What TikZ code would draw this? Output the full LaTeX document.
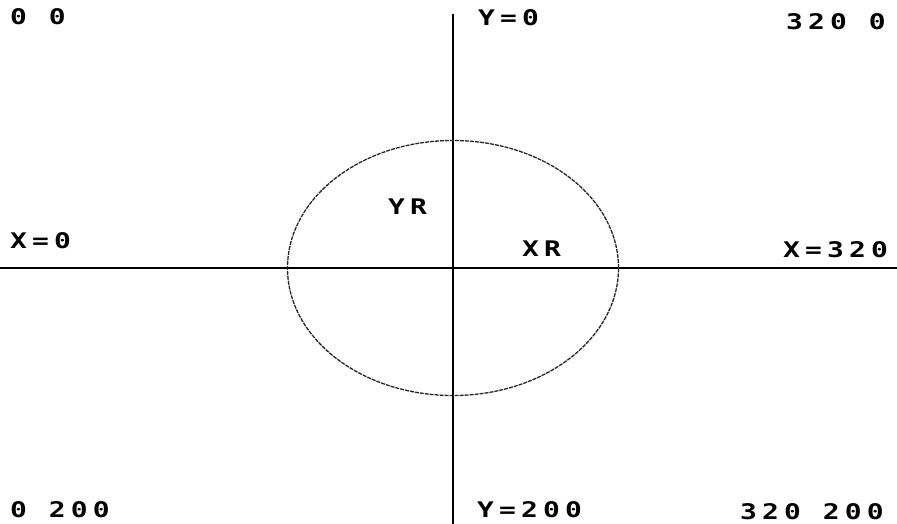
\documentclass[tikz,border=0pt]{standalone}
\usepackage{fontspec}
\newfontfamily\pixfont[FakeStretch=1.3,LetterSpace=24]{DejaVu Sans Mono}
\usepackage{tikz}
\usetikzlibrary{positioning,calc}

\begin{document}
\begin{tikzpicture}[x = 1pt, y = -1pt]
\tikzset{
  lbl/.style = {anchor = base west, inner sep = 0pt, font = {\pixfont\bfseries\fontsize{21.5}{24}\selectfont}},
  axis/.style = {line width = 1.7pt, black},
  rim/.style = {line width = 1.3pt, black!85, dash pattern = on 4pt off 1pt}
}
\useasboundingbox (0,0) rectangle (897,524);
% axes
\coordinate (ytop) at (453,14);
\coordinate (ybot) at (453,524);
\coordinate (xleft) at (0,268);
\coordinate (xright) at (897,268);
\coordinate (origin) at (453,268);
\draw[axis] (ytop) -- (ybot);
\draw[axis] (xleft) -- (xright);
\draw[rim] (origin) ellipse [x radius = 165.5pt, y radius = 127.5pt];
% corner labels
\node[lbl] (tl) at (10,25) {0 0};
\node[lbl] (tm) at (478,26) {Y=0};
\node[lbl] (tr) at (786,30) {320 0};
\node[lbl] (bl) at (10,517) {0 200};
\node[lbl] (bm) at (477,517) {Y=200};
\node[lbl] (br) at (740,519) {320 200};
% axis labels
\node[lbl] (xl) at (10,248) {X=0};
\node[lbl] (xr) at (783,257) {X=320};
% radii
\node[lbl] (yrad) at (388,214) {YR};
\node[lbl] (xrad) at (522,256) {XR};
\end{tikzpicture}
\end{document}
